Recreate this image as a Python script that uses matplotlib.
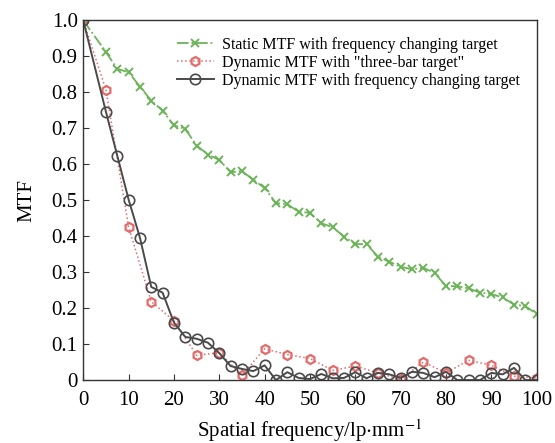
import numpy as np
import matplotlib.pyplot as plt

plt.rcParams['font.family'] = ['Liberation Serif', 'DejaVu Serif']
plt.rcParams['mathtext.fontset'] = 'stix'

# Static MTF with frequency changing target
static_x = [0, 5, 7.5, 10, 12.5, 15, 17.5, 20, 22.5, 25, 27.5, 30, 32.5, 35, 37.5, 40,
            42.5, 45, 47.5, 50, 52.5, 55, 57.5, 60, 62.5, 65, 67.5, 70, 72.5, 75, 77.5,
            80, 82.5, 85, 87.5, 90, 92.5, 95, 97.5, 100]
static_y = [1.0, 0.912, 0.865, 0.856, 0.816, 0.777, 0.749, 0.708, 0.698, 0.652, 0.627,
            0.612, 0.578, 0.581, 0.557, 0.534, 0.492, 0.489, 0.468, 0.465, 0.436, 0.425,
            0.399, 0.378, 0.378, 0.343, 0.329, 0.315, 0.308, 0.312, 0.298, 0.261, 0.261,
            0.255, 0.243, 0.239, 0.230, 0.210, 0.206, 0.183]

# Dynamic MTF with "three-bar target"
bar_x = [0, 5, 10, 15, 20, 25, 30, 35, 40, 45, 50, 55, 60, 65, 70, 75, 80, 85, 90, 95, 100]
bar_y = [1.0, 0.807, 0.426, 0.218, 0.165, 0.069, 0.076, 0.014, 0.087, 0.071, 0.060,
         0.027, 0.039, 0.020, 0.002, 0.050, 0.020, 0.055, 0.041, 0.011, 0.006]

# Dynamic MTF with frequency changing target
dyn_x = [0, 5, 7.5, 10, 12.5, 15, 17.5, 20, 22.5, 25, 27.5, 30, 32.5, 35, 37.5, 40,
         42.5, 45, 47.5, 50, 52.5, 55, 57.5, 60, 62.5, 65, 67.5, 70, 72.5, 75, 77.5,
         80, 82.5, 85, 87.5, 90, 92.5, 95, 97.5, 100]
dyn_y = [1.0, 0.746, 0.624, 0.502, 0.396, 0.259, 0.243, 0.160, 0.120, 0.115, 0.104,
         0.075, 0.039, 0.031, 0.025, 0.041, 0.0, 0.022, 0.006, 0.003, 0.017, 0.005,
         0.006, 0.022, 0.005, 0.020, 0.016, 0.006, 0.023, 0.020, 0.008, 0.023, 0.0,
         0.0, 0.0, 0.020, 0.016, 0.034, 0.0, 0.0]

fig = plt.figure(figsize=(5.55, 4.43), dpi=100)
ax = fig.add_axes([0.150, 0.142, 0.817, 0.812])

ax.plot(static_x, static_y, color='#6cb35a', linestyle='-.', linewidth=1.3,
        marker='x', markersize=5.5, markeredgewidth=1.4,
        label='Static MTF with frequency changing target')
ax.plot(bar_x, bar_y, color='#e46a6a', linestyle=':', linewidth=1.1,
        marker='h', markersize=6.5, markerfacecolor='none', markeredgewidth=1.6,
        label='Dynamic MTF with "three-bar target"')
ax.plot(dyn_x, dyn_y, color='#4a4a4a', linestyle='-', linewidth=1.4,
        marker='o', markersize=7.5, markerfacecolor='none', markeredgewidth=1.2,
        label='Dynamic MTF with frequency changing target')

ax.set_xlim(0, 100)
ax.set_ylim(0, 1.0)
ax.set_xticks(range(0, 101, 10))
ax.set_yticks([0, 0.1, 0.2, 0.3, 0.4, 0.5, 0.6, 0.7, 0.8, 0.9, 1.0])
ax.set_yticklabels(['0', '0.1', '0.2', '0.3', '0.4', '0.5', '0.6', '0.7', '0.8', '0.9', '1.0'])
ax.tick_params(direction='in', length=4, labelsize=15, color='#333333')
ax.tick_params(axis='x', pad=8)
ax.tick_params(axis='y', pad=4)
for s in ax.spines.values():
    s.set_color('#333333')
    s.set_linewidth(1.0)

ax.set_xlabel('Spatial frequency/lp$\\cdot$mm$^{-1}$', fontsize=15, labelpad=5)
ax.set_ylabel('MTF', fontsize=15, labelpad=11)

ax.legend(loc='upper right', bbox_to_anchor=(0.987, 0.985), frameon=False,
          fontsize=11.5, handlelength=2.3, labelspacing=0.12, borderpad=0.2,
          handletextpad=0.5)

plt.savefig('out.png', dpi=100)
